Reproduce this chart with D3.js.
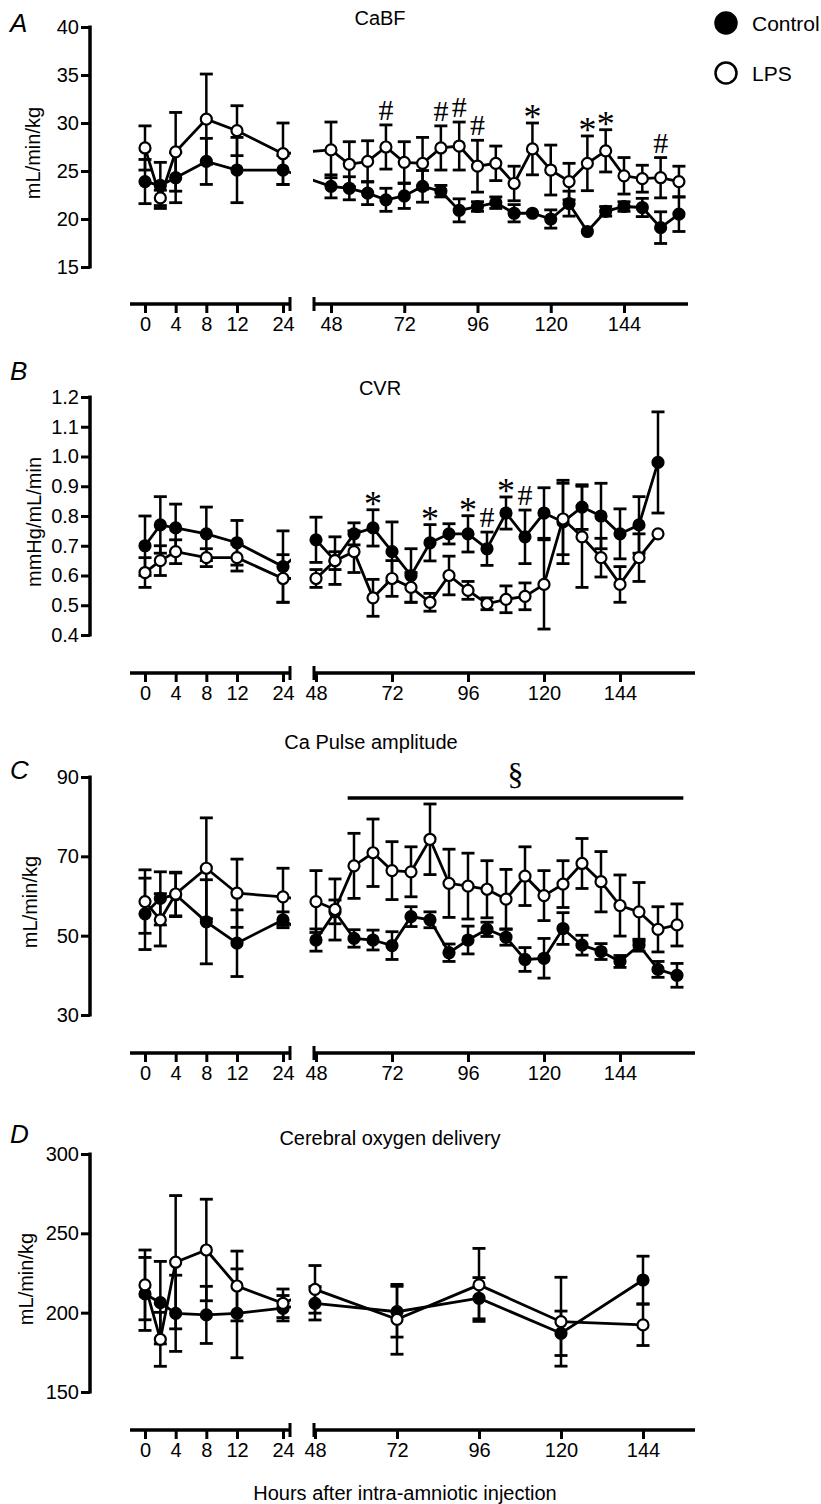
<!DOCTYPE html>
<html>
<head>
<meta charset="utf-8">
<script src="https://cdn.jsdelivr.net/npm/d3@7"></script>
<style>
  body { margin: 0; background: #fff; }
  text { font-family: "Liberation Sans", Arial, sans-serif; fill: #000; }
  .sig { font-family: "Liberation Serif", "Times New Roman", serif; }
</style>
</head>
<body>
<svg id="chart" width="821" height="1504"></svg>
<script>
// ---- data ----
var hoursEarly = [0, 2, 4, 8, 12, 24];
var hoursLate = [48, 54, 60, 66, 72, 78, 84, 90, 96, 102, 108, 114, 120, 126, 132, 138, 144, 150, 156, 162];
var hoursLateB = [48, 54, 60, 66, 72, 78, 84, 90, 96, 102, 108, 114, 120, 126, 132, 138, 144, 150, 156];
var hoursLateD = [48, 72, 96, 120, 144];
var xTicksEarly = [0, 4, 8, 12, 24];
var xTicksLate = [48, 72, 96, 120, 144];

// A: CaBF
var cabfCtrlEarly = [23.9, 23.5, 24.3, 26.0, 25.1, 25.1];
var cabfCtrlEarlySem = [2.3, 2.4, 2.6, 2.4, 3.4, 1.5];
var cabfLpsEarly = [27.4, 22.2, 27.0, 30.4, 29.2, 26.8];
var cabfLpsEarlySem = [2.3, 0.8, 4.1, 4.7, 2.6, 3.2];
var cabfCtrlLate = [23.4, 23.2, 22.7, 22.0, 22.4, 23.4, 22.9, 20.9, 21.3, 21.7, 20.6, 20.6, 20.0, 21.6, 18.7, 20.8, 21.3, 21.2, 19.1, 20.5];
var cabfCtrlLateSem = [1.2, 1.2, 1.2, 1.2, 1.3, 1.65, 0.6, 1.2, 0.5, 0.6, 0.9, 0, 0.95, 1.3, 0, 0.5, 0.5, 0.95, 1.65, 1.8];
var cabfLpsLate = [27.2, 25.7, 26.0, 27.5, 25.9, 25.8, 27.4, 27.6, 25.5, 25.8, 23.7, 27.3, 25.1, 23.9, 25.8, 27.1, 24.5, 24.2, 24.3, 23.9];
var cabfLpsLateSem = [2.9, 2.35, 2.15, 2.3, 2.15, 2.7, 2.3, 2.5, 2.7, 1.8, 1.8, 2.7, 2.6, 1.9, 2.85, 2.2, 1.9, 1.4, 2.1, 1.6];
var cabfMarks = ["", "", "", "#", "", "", "#", "#", "#", "", "", "*", "", "", "*", "*", "", "", "#", ""];

// B: CVR
var cvrCtrlEarly = [0.70, 0.77, 0.76, 0.74, 0.71, 0.63];
var cvrCtrlEarlySem = [0.10, 0.095, 0.08, 0.09, 0.075, 0.12];
var cvrLpsEarly = [0.61, 0.65, 0.68, 0.66, 0.66, 0.59];
var cvrLpsEarlySem = [0.05, 0.05, 0.04, 0.03, 0.045, 0.08];
var cvrCtrlLate = [0.72, 0.65, 0.74, 0.76, 0.68, 0.60, 0.71, 0.74, 0.74, 0.69, 0.81, 0.73, 0.81, 0.78, 0.83, 0.80, 0.74, 0.77, 0.98];
var cvrCtrlLateSem = [0.076, 0.08, 0.037, 0.061, 0.10, 0.09, 0.061, 0.034, 0.061, 0.056, 0.054, 0.09, 0.085, 0.14, 0.075, 0.11, 0.084, 0.095, 0.17];
var cvrLpsLate = [0.59, 0.65, 0.68, 0.525, 0.59, 0.56, 0.51, 0.60, 0.55, 0.505, 0.52, 0.53, 0.57, 0.79, 0.73, 0.66, 0.57, 0.66, 0.74];
var cvrLpsLateSem = [0.03, 0.03, 0.07, 0.062, 0.06, 0.05, 0.03, 0.065, 0.03, 0.02, 0.045, 0.045, 0.15, 0.12, 0.17, 0.065, 0.06, 0.08, 0];
var cvrMarks = ["", "", "", "*", "", "", "*", "", "*", "#", "*", "#", "", "", "", "", "", "", ""];

// C: Ca pulse amplitude
var ampCtrlEarly = [55.5, 59.4, 60.3, 53.5, 48.1, 54.0];
var ampCtrlEarlySem = [9, 6.7, 5.5, 10.6, 8.4, 2];
var ampLpsEarly = [58.6, 54.0, 60.5, 67.0, 60.7, 59.8];
var ampLpsEarlySem = [8, 6.6, 5.5, 12.7, 8.6, 7.2];
var ampCtrlLate = [48.9, 56.0, 49.3, 48.9, 47.5, 54.8, 54.0, 45.7, 48.9, 51.6, 49.6, 44.0, 44.3, 51.8, 47.6, 46.0, 43.5, 47.6, 41.5, 40.0];
var ampCtrlLateSem = [2.8, 3.0, 2.2, 2.5, 3.5, 2.5, 2.0, 2.2, 3.5, 1.8, 2.0, 3.0, 5.0, 4.0, 2.5, 2.0, 1.5, 1.5, 2.0, 3.0];
var ampLpsLate = [58.6, 56.6, 67.6, 70.9, 66.4, 66.1, 74.3, 63.2, 62.5, 61.7, 59.2, 65.0, 60.1, 63.0, 68.2, 63.6, 57.6, 56.0, 51.6, 52.7];
var ampLpsLateSem = [7.8, 7.7, 8.2, 8.5, 7.3, 6.3, 8.9, 8.6, 8.3, 7.2, 7.5, 7.4, 6.3, 5.9, 6.3, 7.6, 7.7, 7.4, 5.7, 5.3];
var ampSigSpan = [58, 164];

// D: cerebral oxygen delivery
var do2CtrlEarly = [211.8, 206.3, 199.6, 198.6, 199.6, 202.8];
var do2CtrlEarlySem = [23, 26, 24, 18, 28, 8];
var do2LpsEarly = [217.5, 183.2, 231.8, 239.5, 216.8, 205.9];
var do2LpsEarlySem = [22, 17, 42, 32, 22, 9];
var do2CtrlLate = [205.9, 200.6, 209.1, 187.0, 220.6];
var do2CtrlLateSem = [10.5, 16, 13, 14, 15];
var do2LpsLate = [214.7, 195.8, 217.5, 194.3, 192.3];
var do2LpsLateSem = [15, 22, 23, 28, 13];

// ---- layout ----
var W = 821, H = 1504;
var yAxisX = 90;
var leftRange = [145, 237, 283];   // 0, 12, 24 h
var leftStart = 130, leftEnd = 291, rightStart = 313;

var panels = [
  { letter: "A", title: "CaBF", titleX: 380, titleY: 18, letterY: 23,
    yLabel: "mL/min/kg", yLabelX: 33, yDomain: [15, 40], yTicks: [15, 20, 25, 30, 35, 40], fmt: d3.format("d"),
    top: 27, bottom: 267, axisY: 304, right: [331, 624], rightEnd: 688,
    early: [cabfCtrlEarly, cabfCtrlEarlySem, cabfLpsEarly, cabfLpsEarlySem],
    late: [cabfCtrlLate, cabfCtrlLateSem, cabfLpsLate, cabfLpsLateSem],
    lateHours: hoursLate, marks: cabfMarks, markOn: "lps" },
  { letter: "B", title: "CVR", titleX: 380, titleY: 388, letterY: 371,
    yLabel: "mmHg/mL/min", yLabelX: 34, yDomain: [0.4, 1.2], yTicks: [0.4, 0.5, 0.6, 0.7, 0.8, 0.9, 1.0, 1.1, 1.2], fmt: d3.format(".1f"),
    top: 397, bottom: 635, axisY: 673, right: [316, 620], rightEnd: 695,
    early: [cvrCtrlEarly, cvrCtrlEarlySem, cvrLpsEarly, cvrLpsEarlySem],
    late: [cvrCtrlLate, cvrCtrlLateSem, cvrLpsLate, cvrLpsLateSem],
    lateHours: hoursLateB, marks: cvrMarks, markOn: "ctrl" },
  { letter: "C", title: "Ca Pulse amplitude", titleX: 371, titleY: 742, letterY: 770,
    yLabel: "mL/min/kg", yLabelX: 30, yDomain: [30, 90], yTicks: [30, 50, 70, 90], fmt: d3.format("d"),
    top: 777, bottom: 1015, axisY: 1053, right: [316, 620], rightEnd: 695,
    early: [ampCtrlEarly, ampCtrlEarlySem, ampLpsEarly, ampLpsEarlySem],
    late: [ampCtrlLate, ampCtrlLateSem, ampLpsLate, ampLpsLateSem],
    lateHours: hoursLate, sigSpan: ampSigSpan, sigY: 798 },
  { letter: "D", title: "Cerebral oxygen delivery", titleX: 390, titleY: 1138, letterY: 1134,
    yLabel: "mL/min/kg", yLabelX: 26, yDomain: [150, 300], yTicks: [150, 200, 250, 300], fmt: d3.format("d"),
    top: 1154, bottom: 1392, axisY: 1430, right: [315, 643], rightEnd: 695,
    early: [do2CtrlEarly, do2CtrlEarlySem, do2LpsEarly, do2LpsEarlySem],
    late: [do2CtrlLate, do2CtrlLateSem, do2LpsLate, do2LpsLateSem],
    lateHours: hoursLateD }
];

var svg = d3.select("#chart");

// clip the connecting lines to the two axis segments (hides the break)
var clip = svg.append("defs").append("clipPath").attr("id", "segClip");
clip.append("rect").attr("x", 0).attr("y", 0).attr("width", leftEnd).attr("height", H);
clip.append("rect").attr("x", rightStart).attr("y", 0).attr("width", W - rightStart).attr("height", H);

panels.forEach(function(p) {
  var g = svg.append("g");

  var yScale = d3.scaleLinear().domain(p.yDomain).range([p.bottom, p.top]);
  var xLeft = d3.scaleLinear().domain([0, 12, 24]).range(leftRange);
  var xRight = d3.scaleLinear().domain([48, 144]).range(p.right);
  var xPos = function(h) { return h <= 24 ? xLeft(h) : xRight(h); };

  // y axis
  var yAxis = d3.axisLeft(yScale).tickValues(p.yTicks).tickFormat(p.fmt)
                .tickSize(9).tickSizeOuter(0).tickPadding(2);
  var ya = g.append("g").attr("transform", "translate(" + yAxisX + ",0)").call(yAxis);
  ya.select(".domain").attr("stroke-width", 3.5).attr("d", "M0," + (p.top - 1.5) + "V" + (p.bottom + 1.5));
  ya.selectAll(".tick line").attr("stroke-width", 3);
  ya.selectAll(".tick text").style("font-size", "20px").attr("fill", "#000");

  // x axis, two segments
  var xa1 = g.append("g").attr("transform", "translate(0," + p.axisY + ")")
             .call(d3.axisBottom(xLeft).tickValues(xTicksEarly).tickSize(9).tickPadding(4));
  var xa2 = g.append("g").attr("transform", "translate(0," + p.axisY + ")")
             .call(d3.axisBottom(xRight).tickValues(xTicksLate).tickSize(9).tickPadding(4));
  [xa1, xa2].forEach(function(a) {
    a.select(".domain").remove();
    a.selectAll(".tick line").attr("stroke-width", 3);
    a.selectAll(".tick text").style("font-size", "20px").attr("fill", "#000");
  });
  xa1.append("line").attr("x1", leftStart).attr("x2", leftEnd).attr("stroke", "#000").attr("stroke-width", 3.5);
  xa1.append("line").attr("x1", leftEnd - 1).attr("x2", leftEnd - 1).attr("y1", -7).attr("y2", 7)
     .attr("stroke", "#000").attr("stroke-width", 3);
  xa2.append("line").attr("x1", rightStart).attr("x2", p.rightEnd).attr("stroke", "#000").attr("stroke-width", 3.5);
  xa2.append("line").attr("x1", rightStart + 1).attr("x2", rightStart + 1).attr("y1", -7).attr("y2", 7)
     .attr("stroke", "#000").attr("stroke-width", 3);

  // labels
  g.append("text").attr("x", 10).attr("y", p.letterY + 9).style("font-size", "26px")
   .style("font-style", "italic").text(p.letter);
  g.append("text").attr("x", p.titleX).attr("y", p.titleY + 7).attr("text-anchor", "middle")
   .style("font-size", "20px").text(p.title);
  var ly = (p.top + p.bottom) / 2 + 6;
  g.append("text").attr("text-anchor", "middle")
   .attr("transform", "translate(" + (p.yLabelX + 7) + "," + ly + ") rotate(-90)")
   .style("font-size", "20px").text(p.yLabel);

  // series
  var series = [
    { name: "ctrl", fill: "#000",
      pts: hoursEarly.map(function(h, i) { return { h: h, v: p.early[0][i], s: p.early[1][i] }; })
           .concat(p.lateHours.map(function(h, i) { return { h: h, v: p.late[0][i], s: p.late[1][i] }; })) },
    { name: "lps", fill: "#fff",
      pts: hoursEarly.map(function(h, i) { return { h: h, v: p.early[2][i], s: p.early[3][i] }; })
           .concat(p.lateHours.map(function(h, i) { return { h: h, v: p.late[2][i], s: p.late[3][i] }; })) }
  ];

  var line = d3.line().x(function(d) { return xPos(d.h); }).y(function(d) { return yScale(d.v); });

  series.forEach(function(s) {
    g.append("path").datum(s.pts).attr("d", line).attr("fill", "none")
     .attr("stroke", "#000").attr("stroke-width", 2.8).attr("clip-path", "url(#segClip)");
  });

  // error bars (SEM), skipped where too small to show
  series.forEach(function(s) {
    var eb = g.append("g").selectAll("g").data(s.pts.filter(function(d) { return d.s > 0; }))
              .enter().append("g");
    eb.append("line")
      .attr("x1", function(d) { return xPos(d.h); }).attr("x2", function(d) { return xPos(d.h); })
      .attr("y1", function(d) { return yScale(d.v - d.s); }).attr("y2", function(d) { return yScale(d.v + d.s); })
      .attr("stroke", "#000").attr("stroke-width", 2.5);
    [1, -1].forEach(function(sign) {
      eb.append("line")
        .attr("x1", function(d) { return xPos(d.h) - 6.5; }).attr("x2", function(d) { return xPos(d.h) + 6.5; })
        .attr("y1", function(d) { return yScale(d.v + sign * d.s); })
        .attr("y2", function(d) { return yScale(d.v + sign * d.s); })
        .attr("stroke", "#000").attr("stroke-width", 2.8);
    });
  });

  series.forEach(function(s) {
    g.append("g").selectAll("circle").data(s.pts).enter().append("circle")
     .attr("cx", function(d) { return xPos(d.h); }).attr("cy", function(d) { return yScale(d.v); })
     .attr("r", 5.5).attr("fill", s.fill).attr("stroke", "#000").attr("stroke-width", 2.2);
  });

  // significance marks above the error bars
  if (p.marks) {
    var base = p.markOn === "lps" ? p.late[2] : p.late[0];
    var sem = p.markOn === "lps" ? p.late[3] : p.late[1];
    p.marks.forEach(function(m, i) {
      if (!m) return;
      var top = yScale(base[i] + sem[i]);
      g.append("text").attr("class", "sig").attr("text-anchor", "middle")
       .attr("x", xPos(p.lateHours[i]))
       .attr("y", m === "*" ? top + 6 : top - 5)
       .style("font-size", m === "*" ? "36px" : "30px").text(m);
    });
  }

  if (p.sigSpan) {
    g.append("line").attr("x1", xRight(p.sigSpan[0])).attr("x2", xRight(p.sigSpan[1]))
     .attr("y1", p.sigY).attr("y2", p.sigY).attr("stroke", "#000").attr("stroke-width", 3.5);
    g.append("text").attr("class", "sig").attr("text-anchor", "middle")
     .attr("x", (xRight(p.sigSpan[0]) + xRight(p.sigSpan[1])) / 2).attr("y", p.sigY - 13)
     .style("font-size", "32px").text("\u00a7");
  }
});

// x axis title
svg.append("text").attr("x", 405).attr("y", 1500).attr("text-anchor", "middle")
   .style("font-size", "20px").text("Hours after intra-amniotic injection");

// legend
var legend = svg.append("g");
var legendItems = [{ label: "Control", fill: "#000", y: 23 }, { label: "LPS", fill: "#fff", y: 73 }];
legendItems.forEach(function(d) {
  legend.append("circle").attr("cx", 726).attr("cy", d.y).attr("r", 10.5)
        .attr("fill", d.fill).attr("stroke", "#000").attr("stroke-width", 2.5);
  legend.append("text").attr("x", 752).attr("y", d.y + 8).style("font-size", "21px").text(d.label);
});
</script>
</body>
</html>
